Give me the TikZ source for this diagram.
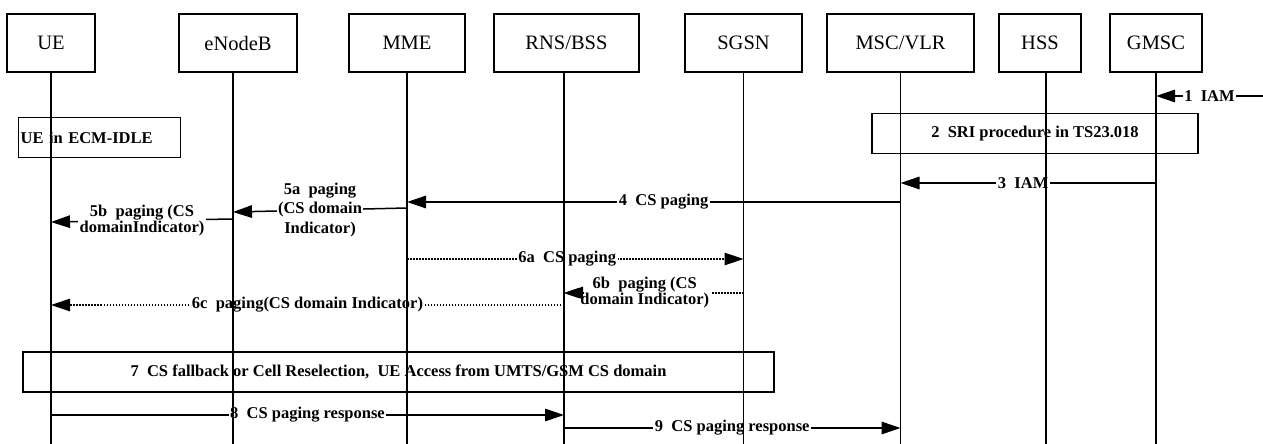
\documentclass[tikz,border=0pt]{standalone}
\usepackage{fontspec}
\setmainfont{Liberation Serif}
\usepackage{tikz}
\usetikzlibrary{arrows.meta,positioning}

\begin{document}
\begin{tikzpicture}[x=1pt, y=-1pt,
  head/.style={draw, line width=1.3pt, minimum height=58pt, inner sep=0pt,
               outer sep=0pt, font=\fontsize{20.5}{24}\selectfont},
  life/.style={line width=1.1pt},
  note/.style={draw, line width=1.3pt, minimum height=40pt, inner sep=2pt,
               font=\fontsize{16.5}{18}\selectfont\bfseries},
  msg/.style={-{Triangle[length=19pt,width=12.5pt]}, line width=1.5pt},
  dmsg/.style={msg, line width=1.2pt, dash pattern=on 1.5pt off 1.5pt},
  lbl/.style={fill=white, inner sep=1.5pt, align=center,
              font=\fontsize{16.5}{16}\selectfont\bfseries}
]
  \useasboundingbox (0,0) rectangle (1263,444);

  \node[head, minimum width=88pt] (ue) at (51,43) {UE};
  \node[head, minimum width=118pt, right=84pt of ue] (enb) {eNodeB};
  \node[head, minimum width=116pt, right=52pt of enb] (mme) {MME};
  \node[head, minimum width=145pt, right=29pt of mme] (rns) {RNS/BSS};
  \node[head, minimum width=117pt, right=46pt of rns] (sgsn) {SGSN};
  \node[head, minimum width=147pt, right=25pt of sgsn] (msc) {MSC/VLR};
  \node[head, minimum width=82pt, right=25pt of msc] (hss) {HSS};
  \node[head, minimum width=92pt, right=29pt of hss] (gmsc) {GMSC};

  \coordinate (enbl) at ([xshift=-5pt]enb.south);
  \coordinate (rnsl) at ([xshift=-2.5pt]rns.south);
  \coordinate (hssl) at ([xshift=6pt]hss.south);

  \coordinate (ext) at (1263,96);
  \draw[msg] (ext) -- node[lbl]{1\ \ IAM} (gmsc |- ext);
  \draw[msg] (gmsc |- 0,183) -- node[lbl, pos=.52]{3\ \ IAM} (msc |- 0,183);
  \draw[msg] (msc |- 0,202) -- node[lbl, pos=.48]{4\ \ CS paging} (mme |- 0,202);
  \draw[msg] (mme |- 0,208) -- node[lbl, font=\fontsize{16.5}{19.5}\selectfont\bfseries]
    {5a\ \ paging\\(CS domain\\Indicator)} (enbl |- 0,212);
  \draw[msg] (enbl |- 0,219) -- node[lbl]{5b\ \ paging (CS\\domainIndicator)} (ue |- 0,222);
  \draw[dmsg] (mme |- 0,259) -- node[lbl, pos=.476]{6a\ \ CS paging} (sgsn |- 0,259);
  \draw[dmsg] (sgsn |- 0,293) -- node[lbl, pos=.55]{6b\ \ paging (CS\\domain Indicator)} (rnsl |- 0,293);
  \draw[dmsg] ([xshift=19pt]rnsl |- 0,293) -- (rnsl |- 0,293);
  \draw[dmsg] (rnsl |- 0,305) -- node[lbl]{6c\ \ paging(CS domain Indicator)} (ue |- 0,305);
  \draw[msg] (ue |- 0,415) -- node[lbl]{8\ \ CS paging response} (rnsl |- 0,415);
  \draw[msg] (rnsl |- 0,428) -- node[lbl]{9\ \ CS paging response} (msc |- 0,428);

  \foreach \n in {ue.south,enbl,mme.south,rnsl,sgsn.south,msc.south,hssl,gmsc.south}
    \draw[life] (\n) -- (\n |- 0,444);

  \node[note, text width=158pt, align=left, anchor=north west] (idle) at (18,117) {UE in ECM-IDLE};
  \node[note, minimum width=326pt] (sri) at (1035,133.5) {2\ \ SRI procedure in TS23.018};
  \node[note, minimum width=751pt] (csfb) at (398.5,372)
    {7\ \ CS fallback or Cell Reselection,\ \ UE Access from UMTS/GSM CS domain};
\end{tikzpicture}
\end{document}
